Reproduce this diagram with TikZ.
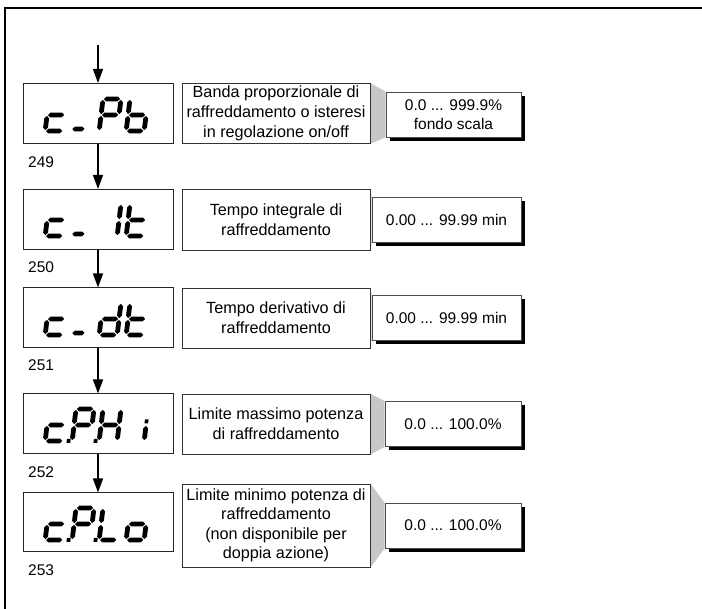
\documentclass[tikz,border=0pt]{standalone}
\usepackage{fontspec}
\setmainfont{Liberation Sans}
\usetikzlibrary{arrows.meta,shadows,backgrounds}

% seven-segment geometry (1pt = 1 unit)
\def\segW{18}
\def\segH{32}
\def\segT{4.8}
\def\segG{0.9}
% horizontal segment: #1=u1, #2=u2, #3=v
\newcommand\hseg[3]{\fill (#1+\segG,#3) -- (#1+\segG+\segT/2,#3-\segT/2) -- (#2-\segG-\segT/2,#3-\segT/2) -- (#2-\segG,#3) -- (#2-\segG-\segT/2,#3+\segT/2) -- (#1+\segG+\segT/2,#3+\segT/2) -- cycle;}
% vertical segment: #1=u, #2=v1, #3=v2
\newcommand\vseg[3]{\fill (#1,#2+\segG) -- (#1+\segT/2,#2+\segG+\segT/2) -- (#1+\segT/2,#3-\segG-\segT/2) -- (#1,#3-\segG) -- (#1-\segT/2,#3-\segG-\segT/2) -- (#1-\segT/2,#2+\segG+\segT/2) -- cycle;}
\newcommand\SegA{\hseg{0}{\segW}{0}}
\newcommand\SegB{\vseg{\segW}{0}{\segH/2}}
\newcommand\SegC{\vseg{\segW}{\segH/2}{\segH}}
\newcommand\SegD{\hseg{0}{\segW}{\segH}}
\newcommand\SegE{\vseg{0}{\segH/2}{\segH}}
\newcommand\SegF{\vseg{0}{0}{\segH/2}}
\newcommand\SegG{\hseg{0}{\segW}{\segH/2}}
\newcommand\SegDash{\hseg{-1}{13}{\segH-2}}
\newcommand\SegDP{\fill (\segW+3.5,\segH-2) rectangle (\segW+7.3,\segH+2);}
\newcommand\SegDot{\fill (\segW-1.8,\segH/2-5.5) rectangle (\segW+1.8,\segH/2-1.5);}
% one slanted digit cell with its top-left corner at (#1,#2)
\newcommand\cell[3]{\begin{scope}[shift={(#1,#2)},xslant=0.12]#3\end{scope}}

\begin{document}
\begin{tikzpicture}[x=1pt,y=-1pt,
  disp/.style={draw=black!85,line width=1pt,minimum width=150pt,minimum height=60pt,inner sep=0pt},
  desc/.style={draw=black!80,line width=0.8pt,minimum width=188pt,align=center,inner sep=0pt,
    font=\fontsize{16.2}{19.8}\selectfont},
  val/.style={draw=black!70,line width=0.7pt,fill=white,minimum height=45pt,align=center,inner sep=0pt,
    font=\fontsize{15.5}{19}\selectfont,
    drop shadow={shadow xshift=4pt,shadow yshift=-4pt,opacity=1,fill=black}},
  arr/.style={line width=1.5pt,-{Triangle[width=10pt,length=14pt]}},
  num/.style={anchor=west,inner sep=0pt,font=\fontsize{15.5}{18}\selectfont},
  taper/.style={fill=black!22}]
\useasboundingbox (0,0) rectangle (702,609);

% frame
\draw[line width=2pt] (5,609) -- (5,8) -- (702,8);

% display boxes
\node[disp] (d1) at (98,113.5) {};
\node[disp] (d2) at (98,219.5) {};
\node[disp] (d3) at (98,318) {};
\node[disp] (d4) at (98,424) {};
\node[disp, minimum height=59pt] (d5) at (98,522.5) {};

% parameter codes
\cell{49}{99}{\SegG\SegE\SegD}
\cell{76}{99}{\SegDash}
\cell{103}{99}{\SegA\SegB\SegF\SegG\SegE}
\cell{130}{99}{\SegF\SegE\SegG\SegC\SegD}

\cell{49}{204}{\SegG\SegE\SegD}
\cell{76}{204}{\SegDash}
\cell{103}{204}{\SegB\SegC}
\cell{130}{204}{\SegF\SegE\SegG\SegD}

\cell{49}{303}{\SegG\SegE\SegD}
\cell{76}{303}{\SegDash}
\cell{103}{303}{\SegB\SegC\SegG\SegE\SegD}
\cell{130}{303}{\SegF\SegE\SegG\SegD}

\cell{49}{409}{\SegG\SegE\SegD\SegDP}
\cell{76}{409}{\SegA\SegB\SegF\SegG\SegE\SegDP}
\cell{103}{409}{\SegB\SegC\SegE\SegF\SegG}
\cell{130}{409}{\SegC\SegDot}

\cell{49}{508}{\SegG\SegE\SegD\SegDP}
\cell{76}{508}{\SegA\SegB\SegF\SegG\SegE\SegDP}
\cell{103}{508}{\SegF\SegE\SegD}
\cell{130}{508}{\SegG\SegC\SegD\SegE}

% parameter numbers
\node[num] (n1) at (28,162) {249};
\node[num] (n2) at (28,267) {250};
\node[num] (n3) at (28,365) {251};
\node[num] (n4) at (28,472) {252};
\node[num] (n5) at (28,570) {253};

% descriptions
\node[desc, minimum height=60pt] (t1) at (276,113.5) {Banda proporzionale di\\raffreddamento o isteresi\\in regolazione on/off};
\node[desc, minimum height=61pt] (t2) at (276,219.5) {Tempo integrale di\\raffreddamento};
\node[desc, minimum height=60pt] (t3) at (276,318) {Tempo derivativo di\\raffreddamento};
\node[desc, minimum height=60pt] (t4) at (276,424) {Limite massimo potenza\\di raffreddamento};
\node[desc, minimum height=83pt, font=\fontsize{16.2}{19.5}\selectfont] (t5) at (276,525.5) {Limite minimo potenza di\\raffreddamento\\(non disponibile per\\doppia azione)};

% value ranges
\node[val, minimum width=135pt] (v1) at (453.5,114.5) {0.0 ... 999.9\%\\fondo scala};
\node[val, minimum width=149pt] (v2) at (446.5,219.5) {0.00 ... 99.99 min};
\node[val, minimum width=149pt] (v3) at (446.5,318) {0.00 ... 99.99 min};
\node[val, minimum width=136pt] (v4) at (453,424) {0.0 ... 100.0\%};
\node[val, minimum width=136pt] (v5) at (453,525.5) {0.0 ... 100.0\%};

% tapers from descriptions to values
\begin{scope}[on background layer]
\foreach \i in {1,...,5}{
  \fill[taper] (t\i.north east) -- (v\i.north west) -- (v\i.south west) -- (t\i.south east) -- cycle;
}
\end{scope}

% flow arrows
\coordinate (entry) at (98,45);
\draw[arr] (entry) -- (d1.north);
\draw[arr] (d1) -- (d2);
\draw[arr] (d2) -- (d3);
\draw[arr] (d3) -- (d4);
\draw[arr] (d4) -- (d5);
\end{tikzpicture}
\end{document}
